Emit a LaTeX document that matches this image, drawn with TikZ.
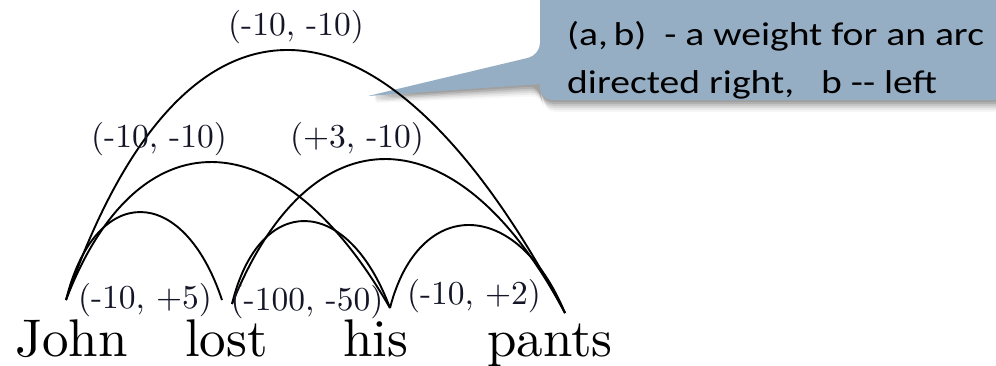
\documentclass[tikz,border=0pt]{standalone}
\usepackage{fontspec}
\setmainfont{lmroman10-regular.otf}
\newfontfamily\calloutfont{Carlito}[FakeStretch=1.2]
\definecolor{calloutblue}{RGB}{150,174,196}
\definecolor{labelink}{RGB}{20,22,40}
\begin{document}
\begin{tikzpicture}[x=1pt,y=-1pt,
  arcline/.style={line width=1.9pt, black},
  wordtext/.style={inner sep=0pt, anchor=base west, font=\fontsize{53}{60}\selectfont},
  weight/.style={inner sep=0pt, text=labelink, font=\fontsize{33.5}{40}\selectfont},
  callouttext/.style={inner sep=0pt, anchor=base west, font=\calloutfont\fontsize{33}{38}\selectfont}]
\useasboundingbox (0,0) rectangle (996,365);
% callout shadow
\foreach \d/\o in {2/0.10,4/0.10,6/0.09,8/0.07,10/0.05,12/0.03}{
  \fill[black, opacity=\o, rounded corners=12pt]
    (540+\d*0.3,-30) -- (540+\d*0.3,55+\d) -- (368,96+\d*0.6) -- (540+\d*0.3,84+\d) -- (540+\d*0.3,100+\d) -- (1010,100+\d) -- (1010,-30) -- cycle;
}
% callout
\fill[calloutblue, rounded corners=12pt]
  (540,-30) -- (540,55) [sharp corners]-- (368,96) -- (540,84) [rounded corners=12pt]-- (540,100) -- (1010,100) -- (1010,-30) -- cycle;
\node[callouttext] (c1) at (567,45) {(a,\,b)\hspace{18pt}-\hspace{9pt}a weight for an arc};
\node[callouttext] (c2) at (567,93) {directed right,\hspace{27pt}b -- left};
% words
\node[wordtext] (john) at (15,356) {John};
\node[wordtext] (lost) at (185,356) {lost};
\node[wordtext] (his) at (343,356) {his};
\node[wordtext] (pants) at (487,356) {pants};
% arc endpoints
\coordinate (J) at (66,300);
\coordinate (Ll) at (222,300);
\coordinate (Lr) at (232,304);
\coordinate (H) at (390,308);
\coordinate (P) at (565,313);
% arcs
\draw[arcline] (J) .. controls (95,182.7) and (183,182.7) .. (Ll);
\draw[arcline] (J) .. controls (137,114.7) and (279,114.7) .. (H);
\draw[arcline] (J) .. controls (182,-35.5) and (381,-35.5) .. (P);
\draw[arcline] (Lr) .. controls (259,192.7) and (347,192.7) .. (H);
\draw[arcline] (Lr) .. controls (310,109.2) and (457,109.2) .. (P);
\draw[arcline] (H) .. controls (418.5,196.5) and (516.5,196.5) .. (P);
% weights
\node[weight] (w1) at (296,27) {(-10, -10)};
\node[weight] (w2) at (159,139) {(-10, -10)};
\node[weight] (w3) at (357,139) {(+3, -10)};
\node[weight] (w4) at (145,300) {(-10, +5)};
\node[weight] (w5) at (307,302) {(-100, -50)};
\node[weight] (w6) at (474,296) {(-10, +2)};
\end{tikzpicture}
\end{document}
